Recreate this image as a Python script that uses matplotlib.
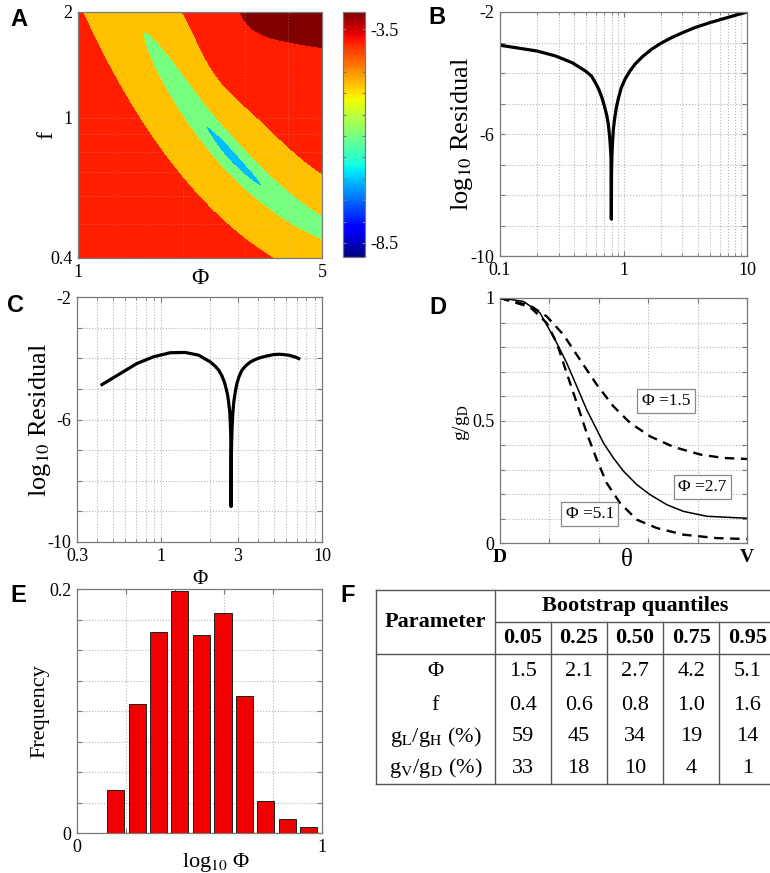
import numpy as np
import matplotlib
matplotlib.use("Agg")
import matplotlib.pyplot as plt
from matplotlib.colors import Normalize
from matplotlib.cm import ScalarMappable
from matplotlib.ticker import LogLocator, NullFormatter, FixedLocator

W, H = 770, 873

# ---- fitted parameters / bootstrap table (panel F) ----
QUANTILES = ["0.05", "0.25", "0.50", "0.75", "0.95"]
PARAM_NAMES = ["\u03a6", "f", r"g$_\mathrm{L}$/g$_\mathrm{H}$ (%)",
               r"g$_\mathrm{V}$/g$_\mathrm{D}$ (%)"]
PHI_Q = [1.5, 2.1, 2.7, 4.2, 5.1]
F_Q = [0.4, 0.6, 0.8, 1.0, 1.6]
GL_GH_Q = [59, 45, 34, 19, 14]
GV_GD_Q = [33, 18, 10, 4, 1]

# ---- A: log10 residual landscape over (phi, f) ----
PHI_BEST, F_BEST = PHI_Q[2], F_Q[2]
RES_MIN = -9.5
CONTOUR_LEVELS = [-10, -8.5, -7.5, -6.5, -5.5, -4.5, -3.5, 0]
CBAR_RANGE = (-8.83, -3.1)
CBAR_LABELS = [-8.5, -3.5]

# ---- B: residual vs f ----
B_F = [0.1, 0.134, 0.2, 0.281, 0.383, 0.491, 0.55, 0.591, 0.63, 0.669,
       0.70, 0.734, 0.755, 0.771, 0.782, 0.791, 0.795, 0.797, 0.80, 0.806,
       0.815, 0.828, 0.846, 0.875, 0.912, 0.96, 1.03, 1.12, 1.24, 1.42,
       1.69, 2.0, 2.45, 3.0, 3.79, 5.0, 6.21, 8.0, 10.0]
B_RES = [-3.09, -3.17, -3.28, -3.44, -3.66, -3.93, -4.10, -4.31, -4.53,
         -4.81, -5.08, -5.41, -5.70, -6.06, -6.38, -6.72, -7.6, -8.79, -7.3,
         -6.7, -6.28, -5.85, -5.52, -5.13, -4.81, -4.48, -4.20, -3.95, -3.71,
         -3.47, -3.22, -3.03, -2.84, -2.68, -2.51, -2.35, -2.24, -2.11, -2.0]

# ---- C: residual vs phi ----
C_PHI = [0.429, 0.557, 0.708, 0.899, 1.14, 1.41, 1.71, 2.02, 2.15, 2.28,
         2.38, 2.47, 2.53, 2.59, 2.63, 2.67, 2.69, 2.71, 2.718, 2.722, 2.73,
         2.745, 2.76, 2.79, 2.83, 2.89, 2.96, 3.05, 3.18, 3.35, 3.59, 3.85,
         4.14, 4.5, 5.01, 5.4, 5.78, 6.2, 6.52, 6.9, 7.17]
C_RES = [-4.86, -4.50, -4.17, -3.95, -3.82, -3.81, -3.90, -4.12, -4.24,
         -4.39, -4.56, -4.77, -4.97, -5.20, -5.45, -5.75, -6.05, -6.51, -7.4,
         -8.84, -7.3, -6.7, -6.29, -5.8, -5.42, -5.1, -4.82, -4.6, -4.39,
         -4.25, -4.12, -4.04, -3.98, -3.93, -3.88, -3.87, -3.88, -3.90, -3.93,
         -3.97, -4.01]

# ---- D: g/gD profiles from D to V ----
THETA_27 = [0, 0.095, 0.162, 0.23, 0.27, 0.311, 0.351, 0.385, 0.419, 0.459,
            0.5, 0.554, 0.608, 0.676, 0.743, 0.838, 1.0]
G_27 = [1.0, 0.986, 0.939, 0.816, 0.735, 0.639, 0.544, 0.476, 0.408, 0.347,
        0.293, 0.238, 0.197, 0.156, 0.129, 0.109, 0.101]
THETA_15 = [0, 0.122, 0.189, 0.257, 0.324, 0.392, 0.459, 0.527, 0.608, 0.703,
            0.811, 0.905, 1.0]
G_15 = [1.0, 0.969, 0.925, 0.85, 0.748, 0.646, 0.558, 0.49, 0.435, 0.392,
        0.361, 0.347, 0.343]
THETA_51 = [0, 0.122, 0.189, 0.23, 0.27, 0.311, 0.351, 0.392, 0.432, 0.486,
            0.554, 0.635, 0.743, 0.878, 1.0]
G_51 = [1.0, 0.963, 0.898, 0.816, 0.694, 0.571, 0.449, 0.34, 0.245, 0.163,
        0.095, 0.061, 0.034, 0.02, 0.016]

# ---- E: bootstrap histogram of log10 phi ----
E_CENTERS = [0.158, 0.2455, 0.333, 0.42, 0.508, 0.596, 0.683, 0.771, 0.858,
             0.946]
E_FREQ = [0.035, 0.106, 0.165, 0.198, 0.162, 0.180, 0.112, 0.0265, 0.0115,
          0.0052]

plt.rcParams.update({
    "font.family": ["Liberation Serif", "DejaVu Serif"],
    "mathtext.fontset": "stix",
    "font.size": 13,
    "axes.linewidth": 0.9,
    "axes.edgecolor": "#7a7a7a",
    "xtick.direction": "in", "ytick.direction": "in",
    "xtick.top": True, "ytick.right": True,
    "xtick.major.size": 3.5, "ytick.major.size": 3.5,
    "xtick.minor.size": 2, "ytick.minor.size": 2,
    "xtick.color": "#7a7a7a", "ytick.color": "#7a7a7a",
    "xtick.labelcolor": "black", "ytick.labelcolor": "black",
    "xtick.major.pad": 4, "ytick.major.pad": 4,
})

GRID = dict(ls=":", color="#b5b5b5", lw=0.8)


def px_axes(fig, left, top, right, bottom):
    return fig.add_axes([left / W, 1 - bottom / H,
                         (right - left) / W, (bottom - top) / H])


def ftext(fig, x, y, s, **kw):
    kw.setdefault("ha", "center")
    kw.setdefault("va", "center")
    return fig.text(x / W, 1 - y / H, s, **kw)


def residual_surface(phi, f):
    # curved valley in log-space with its floor at the best fit
    s = np.log(phi) / np.log(5)
    t = np.log(f / 0.4) / np.log(5)
    s0 = np.log(PHI_BEST) / np.log(5)
    t0 = np.log(F_BEST / 0.4) / np.log(5)
    ds = s - s0
    slope = -1.095 + 2 * 0.761 * ds
    tc = t0 - 1.095 * ds + 0.761 * ds ** 2
    stretch = np.sqrt(1 + slope ** 2)
    across = (t - tc) / stretch
    along = ds * stretch
    # flatter bottom around the optimum
    core = np.exp(-(along / 0.05) ** 2 - (across / 0.015) ** 2)
    gain = 8.7e-4 * (1 - 0.85 * core)
    flat = 1 - 0.8 * np.exp(-(along / 0.09) ** 2)
    r = 10 ** RES_MIN + 6.5e-6 * flat * np.abs(along) ** 1.77
    r += gain * across ** 2 / (1 + (across / 0.6) ** 2)
    # rising corner at large phi and large f
    r += 3.2e-4 * np.exp(-((s - 0.9) / 0.3) ** 4 - ((t - 1.05) / 0.22) ** 2)
    return np.log10(r)


def blank_labels(ax, axis, ticks, shown, fmt="{:g}"):
    labels = [fmt.format(v) if any(np.isclose(v, shown)) else "" for v in ticks]
    if axis == "x":
        ax.set_xticks(ticks)
        ax.set_xticklabels(labels)
    else:
        ax.set_yticks(ticks)
        ax.set_yticklabels(labels)


fig = plt.figure(figsize=(W / 100, H / 100), dpi=100)

# ---------------- A ----------------
axA = px_axes(fig, 78, 12, 322, 258)
phi = np.geomspace(1, 5, 600)
fg = np.geomspace(0.4, 2, 600)
P, Fg = np.meshgrid(phi, fg)
Z = residual_surface(P, Fg)
norm = Normalize(*CBAR_RANGE)
jet = plt.get_cmap("jet")
band_values = [-9.0, -8.0, -7.05, -6.0, -4.8, -3.8, -3.1]
axA.contourf(P, Fg, Z, levels=CONTOUR_LEVELS, colors=jet(norm(band_values)))
axA.set_xscale("log")
axA.set_yscale("log")
axA.set_xlim(1, 5)
axA.set_ylim(0.4, 2)
axA.xaxis.set_major_locator(FixedLocator([1, 5]))
axA.yaxis.set_major_locator(FixedLocator([0.4, 1, 2]))
axA.xaxis.set_minor_locator(FixedLocator([2, 3, 4]))
axA.yaxis.set_minor_locator(FixedLocator([0.5, 0.6, 0.7, 0.8, 0.9]))
axA.xaxis.set_minor_formatter(NullFormatter())
axA.yaxis.set_minor_formatter(NullFormatter())
axA.set_xticklabels(["1", "5"])
axA.set_yticklabels(["0.4", "1", "2"])
axA.grid(True, which="both", alpha=0.35, **GRID)
axA.tick_params(which="both", length=0)
ftext(fig, 47, 135, "f", fontsize=17, rotation=90)
ftext(fig, 200, 279, "\u03a6", fontsize=17)

cax = px_axes(fig, 343, 12, 365, 257)
cb = fig.colorbar(ScalarMappable(norm=norm, cmap=jet), cax=cax)
cb_ticks = np.arange(-8.5, -3.4, 0.5)
cb.set_ticks(cb_ticks)
cb.set_ticklabels(["{:g}".format(v) if any(np.isclose(v, CBAR_LABELS)) else ""
                   for v in cb_ticks])
cax.tick_params(direction="in", left=True, right=True, length=2.5,
                color="#7a7a7a")
cb.outline.set_edgecolor("#7a7a7a")

# ---------------- B ----------------
axB = px_axes(fig, 500, 12, 747, 256)
axB.plot(B_F, B_RES, color="black", lw=2.3, solid_joinstyle="round")
axB.set_xscale("log")
axB.set_xlim(0.1, 10)
axB.set_ylim(-10, -2)
axB.xaxis.set_major_locator(FixedLocator([0.1, 1, 10]))
axB.set_xticklabels(["0.1", "1", "10"])
axB.xaxis.set_minor_locator(LogLocator(subs=np.arange(2, 10)))
axB.xaxis.set_minor_formatter(NullFormatter())
blank_labels(axB, "y", np.arange(-10, -1), [-10, -6, -2])
axB.grid(True, which="both", **GRID)
ftext(fig, 462, 134, r"log$_{10}$ Residual", fontsize=19, rotation=90)

# ---------------- C ----------------
axC = px_axes(fig, 77, 297, 322, 542)
axC.plot(C_PHI, C_RES, color="black", lw=2.3, solid_joinstyle="round")
axC.set_xscale("log")
axC.set_xlim(0.3, 10)
axC.set_ylim(-10, -2)
axC.xaxis.set_major_locator(FixedLocator([0.3, 1, 3, 10]))
axC.set_xticklabels(["0.3", "1", "3", "10"])
axC.xaxis.set_minor_locator(LogLocator(subs=np.arange(2, 10)))
axC.xaxis.set_minor_formatter(NullFormatter())
blank_labels(axC, "y", np.arange(-10, -1), [-10, -6, -2])
axC.grid(True, which="both", **GRID)
ftext(fig, 40, 420, r"log$_{10}$ Residual", fontsize=19, rotation=90)
ftext(fig, 200, 579, "\u03a6", fontsize=15)

# ---------------- D ----------------
axD = px_axes(fig, 500, 298, 747, 543)
axD.plot(THETA_15, G_15, color="black", lw=1.7, ls=(0, (4, 2.8)))
axD.plot(THETA_27, G_27, color="black", lw=1.1)
axD.plot(THETA_51, G_51, color="black", lw=1.7, ls=(0, (4, 2.8)))
axD.set_xlim(0, 1)
axD.set_ylim(0, 1)
axD.set_xticks(np.linspace(0, 1, 6))
axD.set_xticklabels(["D", "", "", "", "", "V"], fontweight="bold", fontsize=14)
blank_labels(axD, "y", np.round(np.arange(0, 1.01, 0.1), 2), [0, 0.5, 1])
axD.grid(True, **GRID)
box = dict(boxstyle="square,pad=0.25", fc="white", ec="#8a8a8a", lw=0.9)
for lab, (x, y) in zip([PHI_Q[0], PHI_Q[2], PHI_Q[4]],
                       [(0.672, 0.58), (0.818, 0.229), (0.364, 0.118)]):
    axD.text(x, y, "\u03a6 =%g" % lab, ha="center", va="center",
             fontsize=12.5, bbox=box)
ftext(fig, 462, 423, r"g/g$_\mathrm{D}$", fontsize=14, rotation=90)
ftext(fig, 627, 560, "\u03b8", fontsize=18)

# ---------------- E ----------------
axE = px_axes(fig, 77, 589, 322, 833)
width = 0.8 * np.median(np.diff(E_CENTERS))
axE.bar(E_CENTERS, E_FREQ, width=width, color="#f00000", edgecolor="#202020",
        linewidth=0.7, zorder=3)
axE.set_xlim(0, 1)
axE.set_ylim(0, 0.2)
blank_labels(axE, "x", np.round(np.linspace(0, 1, 6), 2), [0, 1])
blank_labels(axE, "y", np.round(np.arange(0, 0.2001, 0.025), 3), [0, 0.2])
axE.grid(True, **GRID)
ftext(fig, 40, 711, "Frequency", fontsize=16, rotation=90)
ftext(fig, 216, 862, "log$_{10}$ \u03a6", fontsize=16)

# ---------------- F (table) ----------------
axF = fig.add_axes([0, 0, 1, 1])
axF.set_xlim(0, W)
axF.set_ylim(H, 0)
axF.axis("off")
col_edges = [495, 550.7, 606.7, 663.3, 719.3, 775.5]
line = dict(color="#555555", lw=1.0)
axF.plot([376, 776], [590, 590], **line)
axF.plot([376, 776], [784, 784], **line)
axF.plot([376, 776], [654, 654], **line)
axF.plot([495, 776], [622, 622], **line)
axF.plot([376, 376], [590, 784], **line)
axF.plot([495, 495], [590, 784], **line)
for x in col_edges[1:]:
    axF.plot([x, x], [622, 784], **line)
col_centers = [(a + b) / 2 for a, b in zip(col_edges[:-1], col_edges[1:])]
axF.text(435.5, 622, "Parameter", ha="center", va="center", fontsize=16,
         fontweight="bold")
axF.text(635, 606, "Bootstrap quantiles", ha="center", va="center",
         fontsize=16, fontweight="bold")
for x, q in zip(col_centers, QUANTILES):
    axF.text(x, 638, q, ha="center", va="center", fontsize=16,
             fontweight="bold")
rows = [["%.1f" % v for v in PHI_Q], ["%.1f" % v for v in F_Q],
        ["%d" % v for v in GL_GH_Q], ["%d" % v for v in GV_GD_Q]]
for y, name, vals in zip([671.7, 705, 736.7, 768.3], PARAM_NAMES, rows):
    axF.text(435.5, y, name, ha="center", va="center", fontsize=16)
    for x, v in zip(col_centers, vals):
        axF.text(x, y, v, ha="center", va="center", fontsize=16)

# panel letters
for lab, (x, y) in zip("ABCDEF", [(19, 19), (437, 18), (15, 305), (438, 307),
                                 (18, 596), (348, 596)]):
    ftext(fig, x, y, lab, fontsize=17, fontweight="bold",
          family=["Liberation Sans", "DejaVu Sans"])

fig.savefig("out.png", dpi=100)
